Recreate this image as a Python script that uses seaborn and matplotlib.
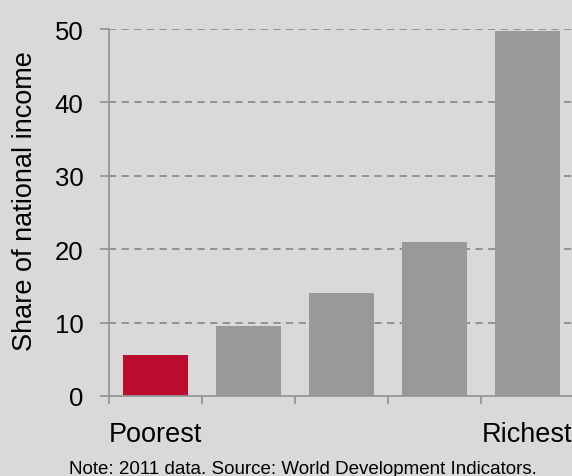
import matplotlib
matplotlib.use("Agg")
import matplotlib.pyplot as plt
import seaborn as sns
import pandas as pd

quintiles = ["Q1", "Q2", "Q3", "Q4", "Q5"]
shares = [5.6, 9.5, 14.0, 21.0, 49.7]
end_labels = ["Poorest", "", "", "", "Richest"]
bar_colors = ["#bb0c2f", "#999999", "#999999", "#999999", "#999999"]
y_ticks = [0, 10, 20, 30, 40, 50]
note = "Note: 2011 data. Source: World Development Indicators."
ylabel = "Share of national income"

sns.set_theme(style="white")
plt.rcParams["font.family"] = ["Liberation Sans", "DejaVu Sans"]

bg = "#d9d9d9"
axis_col = "#969696"
fig = plt.figure(figsize=(5.72, 4.77), dpi=100, facecolor=bg)
ax = fig.add_axes([109/572, 1 - 397/477, 465/572, (397 - 30)/477])
ax.set_facecolor(bg)

df = pd.DataFrame({"q": quintiles, "share": shares})
sns.barplot(data=df, x="q", y="share", hue="q", palette=bar_colors,
            legend=False, width=0.69, ax=ax, saturation=1, zorder=3,
            linewidth=0, edgecolor="none")

ax.set_xlim(-0.5, 4.5)
ax.set_ylim(0, 50)
ax.set_yticks(y_ticks)
ax.set_yticklabels([str(v) for v in y_ticks], fontsize=18.5, color="black")
for v in y_ticks[1:]:
    ax.axhline(v, color="#8c8c8c", lw=1.3, ls=(0, (4, 3)), zorder=1)

# category boundary ticks
ax.set_xticks([-0.5, 0.5, 1.5, 2.5, 3.5])
ax.set_xticklabels([])
ax.set_xticks(range(5), labels=end_labels, minor=True)
ax.tick_params(axis="x", which="major", length=6, width=1.3, color=axis_col, direction="out", bottom=True)
ax.tick_params(axis="x", which="minor", length=0, pad=18, labelsize=19.5, labelcolor="black")
ax.tick_params(axis="y", length=6.5, width=1.3, color=axis_col, direction="out", left=True, pad=12)

for s in ["top", "right"]:
    ax.spines[s].set_visible(False)
for s in ["left", "bottom"]:
    ax.spines[s].set_color(axis_col)
    ax.spines[s].set_linewidth(1.3)
    ax.spines[s].set_zorder(4)

ax.set_xlabel("")
ax.set_ylabel("")
fig.text(25/572, 1 - 201/477, ylabel, rotation=90, ha="center", va="center", fontsize=19.5, color="black")
fig.text(303/572, 1 - 470/477, note, ha="center", va="center", fontsize=13.5, color="black")

fig.savefig("out.png", dpi=100, facecolor=bg)
